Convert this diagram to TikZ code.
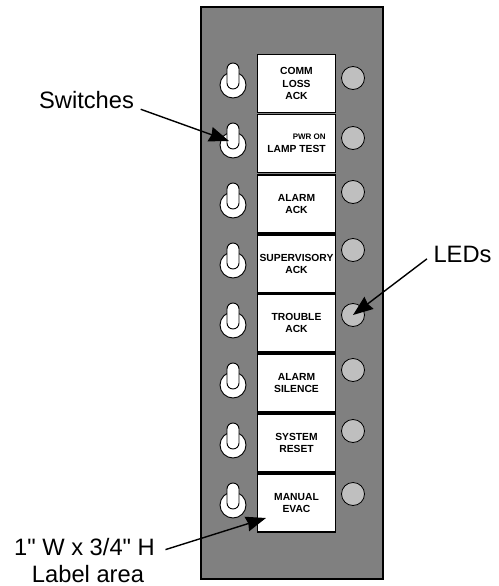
\documentclass[tikz,border=0pt]{standalone}
\usepackage{fontspec}
\setmainfont{Liberation Sans}
\newfontfamily\calloutfont{Liberation Sans}
\usetikzlibrary{arrows.meta}
\definecolor{panelgray}{gray}{0.5}
\definecolor{ledgray}{gray}{0.75}
\tikzset{
  labelbox/.style={draw=black,fill=white,line width=1.8pt,minimum width=78pt,minimum height=58.1pt,inner sep=0pt,align=center,font=\fontsize{10.3}{12.7}\selectfont\bfseries},
  knob/.style={circle,draw=black,fill=white,line width=0.9pt,minimum size=26pt,inner sep=0pt},
  lever/.style={rectangle,draw=black,fill=white,line width=0.9pt,rounded corners=6pt,minimum width=12pt,minimum height=26pt,inner sep=0pt},
  ledlamp/.style={circle,draw=black,fill=ledgray,line width=0.8pt,minimum size=23pt,inner sep=0pt},
  callout/.style={font=\calloutfont\fontsize{23.7}{28}\selectfont,inner sep=0pt},
  pointer/.style={line width=1.4pt,-{Stealth[length=20pt,width=15pt,inset=1.5pt]}}
}
\begin{document}
\begin{tikzpicture}[x=1pt,y=-1pt]
\useasboundingbox (0,0) rectangle (498,586);
\draw[fill=panelgray,line width=1.5pt] (201,7) rectangle (383,579);

\node[labelbox] (label1) at (296.5,83.5) {COMM\\LOSS\\ACK};
\node[labelbox,align=right] (label2) at (296.5,143.5) {{\fontsize{8}{12.7}\selectfont PWR ON}\\LAMP TEST};
\node[labelbox] (label3) at (296.5,204) {ALARM\\ACK};
\node[labelbox] (label4) at (296.5,264) {SUPERVISORY\\ACK};
\node[labelbox] (label5) at (296.5,323) {TROUBLE\\ACK};
\node[labelbox] (label6) at (296.5,383) {ALARM\\SILENCE};
\node[labelbox] (label7) at (296.5,443) {SYSTEM\\RESET};
\node[labelbox] (label8) at (296.5,503) {MANUAL\\EVAC};

\node[knob] (knob1) at (233,85) {};
\node[knob] (knob2) at (233,145) {};
\node[knob] (knob3) at (233,205) {};
\node[knob] (knob4) at (233,265) {};
\node[knob] (knob5) at (233,325) {};
\node[knob] (knob6) at (233,385) {};
\node[knob] (knob7) at (233,445) {};
\node[knob] (knob8) at (233,505) {};

\node[lever] (lever1) at (233,76) {};
\node[lever] (lever2) at (233,136) {};
\node[lever] (lever3) at (233,196) {};
\node[lever] (lever4) at (233,256) {};
\node[lever] (lever5) at (233,316) {};
\node[lever] (lever6) at (233,376) {};
\node[lever] (lever7) at (233,436) {};
\node[lever] (lever8) at (233,496) {};

\node[ledlamp] (led1) at (353,78) {};
\node[ledlamp] (led2) at (353,138) {};
\node[ledlamp] (led3) at (353,192) {};
\node[ledlamp] (led4) at (353,250) {};
\node[ledlamp] (led5) at (353,315) {};
\node[ledlamp] (led6) at (353,370) {};
\node[ledlamp] (led7) at (353,431) {};
\node[ledlamp] (led8) at (353,494) {};

\node[callout] (switches) at (86.5,100) {Switches};
\node[callout] (leds) at (462.5,254) {LEDs};
\node[callout] (sizetext) at (84.5,547) {1" W x 3/4" H};
\node[callout] (areatext) at (88,574) {Label area};

\coordinate (switchtip) at (229,141);
\coordinate (areatip) at (266,518);

\draw[pointer,shorten <=7pt] ([yshift=2pt]switches.south east) -- (switchtip);
\draw[pointer,shorten <=8pt] (leds.west) -- (led5.center);
\draw[pointer,shorten <=11pt] ([yshift=3pt]sizetext.south east) -- (areatip);
\end{tikzpicture}
\end{document}
